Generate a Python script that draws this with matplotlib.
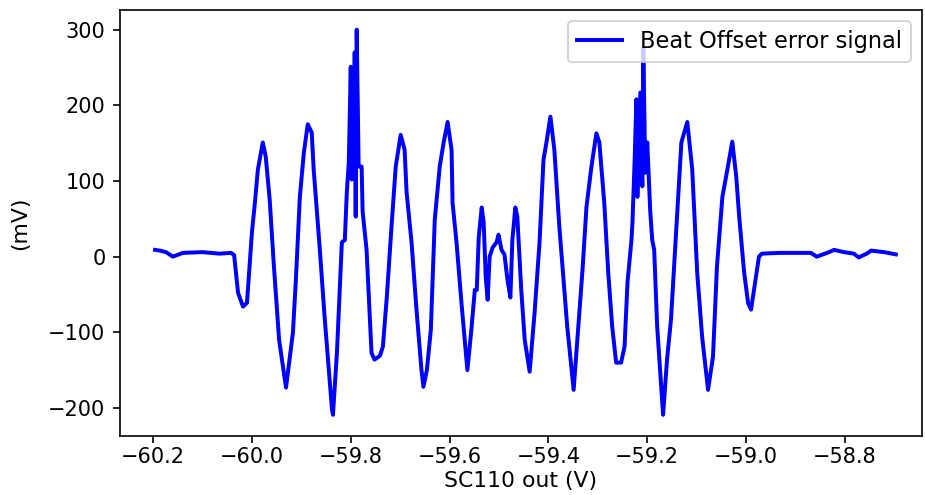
import matplotlib
matplotlib.use("Agg")
import matplotlib.pyplot as plt

# SC110 output voltage (V)
sc110_out = [
    -60.196, -60.186, -60.174, -60.160, -60.140, -60.100, -60.066, -60.042, -60.036,
    -60.028, -60.018, -60.010, -60.000, -59.994, -59.988, -59.978, -59.972, -59.964,
    -59.956, -59.945, -59.931, -59.917, -59.911, -59.903, -59.895, -59.887, -59.879,
    -59.875, -59.863, -59.853, -59.838, -59.836, -59.828, -59.818, -59.812, -59.808,
    -59.804, -59.800, -59.798, -59.794, -59.792, -59.790, -59.788, -59.784, -59.778,
    -59.776, -59.768, -59.758, -59.752, -59.741, -59.735, -59.727, -59.717, -59.709,
    -59.699, -59.691, -59.687, -59.677, -59.667, -59.657, -59.653, -59.646, -59.638,
    -59.630, -59.620, -59.612, -59.604, -59.596, -59.594, -59.586, -59.576, -59.564,
    -59.556, -59.549, -59.545, -59.541, -59.535, -59.531, -59.527, -59.523, -59.519,
    -59.513, -59.505, -59.501, -59.495, -59.489, -59.483, -59.477, -59.473, -59.467,
    -59.463, -59.455, -59.448, -59.438, -59.428, -59.418, -59.410, -59.404, -59.396,
    -59.388, -59.378, -59.370, -59.362, -59.349, -59.341, -59.331, -59.323, -59.313,
    -59.303, -59.297, -59.287, -59.279, -59.271, -59.263, -59.253, -59.246, -59.240,
    -59.232, -59.230, -59.226, -59.222, -59.220, -59.214, -59.210, -59.208, -59.204,
    -59.200, -59.194, -59.190, -59.186, -59.180, -59.168, -59.160, -59.152, -59.141,
    -59.131, -59.119, -59.109, -59.099, -59.089, -59.077, -59.067, -59.059, -59.048,
    -59.038, -59.028, -59.020, -59.014, -59.004, -58.996, -58.990, -58.980, -58.974,
    -58.968, -58.933, -58.893, -58.869, -58.857, -58.832, -58.822, -58.802, -58.782,
    -58.772, -58.756, -58.747, -58.721, -58.697,
]

# beat offset error signal (mV)
error_mv = [
    9, 8, 6, 0, 5, 6, 4, 5, 2,
    -48, -66, -61, 32, 71, 115, 151, 132, 75,
    -8, -110, -173, -100, -30, 79, 137, 175, 164,
    115, 13, -79, -202, -209, -127, 19, 22, 85,
    124, 251, 102, 132, 270, 53, 300, 119, 119,
    60, 9, -127, -136, -131, -119, -53, 45, 119,
    161, 141, 85, 19, -70, -149, -172, -150, -97,
    49, 119, 151, 178, 141, 71, 19, -61, -150,
    -97, -44, -44, 26, 65, 45, -26, -57, 0,
    12, 19, 29, 9, 3, -30, -54, 22, 65,
    53, -44, -110, -152, -74, 19, 128, 151, 185,
    141, 40, -26, -92, -176, -106, -17, 66, 119,
    163, 151, 71, -21, -92, -140, -140, -119, -34,
    22, 45, 119, 208, 79, 217, 93, 276, 111,
    151, 60, 22, 9, -92, -209, -136, -83, 40,
    151, 178, 115, -21, -106, -176, -132, -13, 79,
    115, 152, 106, 53, -21, -61, -70, -26, 0,
    4, 5, 5, 5, 0, 6, 9, 6, 4,
    -1, 4, 8, 6, 3,
]

fig = plt.figure(figsize=(925 / 150, 495 / 150), dpi=150)
ax = fig.add_axes([0.1297, 0.1192, 0.8671, 0.8606])

ax.plot(sc110_out, error_mv, color="b", lw=1.9, label="Beat Offset error signal")

ax.set_xlim(-60.267, -58.644)
ax.set_ylim(-237, 326)
ax.set_xticks([-60.2, -60.0, -59.8, -59.6, -59.4, -59.2, -59.0, -58.8])
ax.set_yticks([-200, -100, 0, 100, 200, 300])
ax.tick_params(labelsize=10)
ax.tick_params(axis="x", pad=2)

ax.set_xlabel("SC110 out (V)", fontsize=10.5)
ax.set_ylabel("(mV)", fontsize=10.5)
ax.xaxis.set_label_coords(0.5, -0.082)
ax.yaxis.set_label_coords(-0.112, 0.5)
ax.legend(loc="upper right", fontsize=10.8)

fig.savefig("out.png", dpi=150)
